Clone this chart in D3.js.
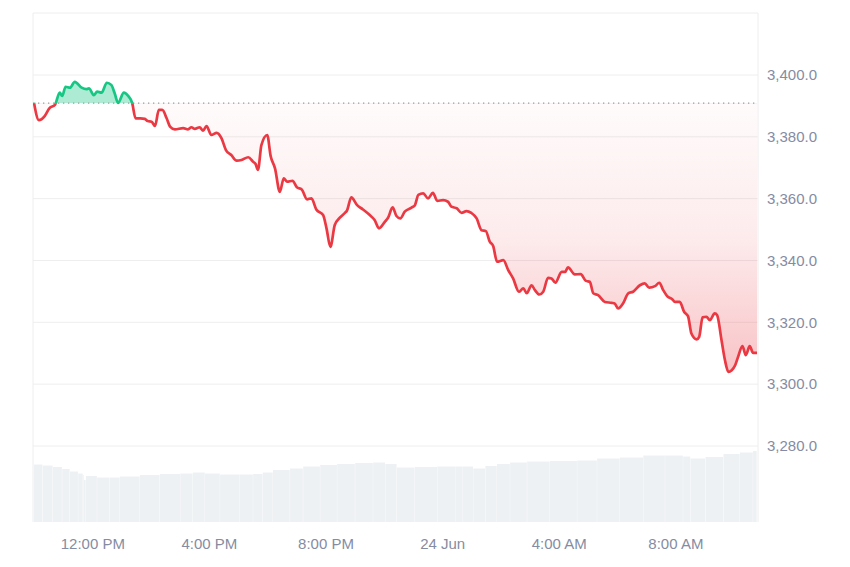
<!DOCTYPE html>
<html>
<head>
<meta charset="utf-8">
<script src="https://cdn.jsdelivr.net/npm/d3@7"></script>
<style>
  html, body { margin: 0; padding: 0; background: #fff; }
  svg { display: block; font-family: "Liberation Sans", Arial, Helvetica, sans-serif; }
</style>
</head>
<body>
<svg id="chart" width="850" height="567"></svg>
<script>
// ---- data (minutes after 23 Jun 10:00) ----
const baseTime = new Date(2024, 5, 23, 10, 0);
const minutes = [0,10,22,32,43,53,58,65,74,84,98,108,113,123,130,139,150,159,166,173,185,194,202,209,219,228,234,242,249,257,264,273,280,290,307,317,324,331,341,348,355,365,376,386,395,406,417,427,441,451,456,461,468,480,487,496,506,514,521,532,541,551,562,571,581,595,602,610,619,628,640,644,653,665,677,691,701,710,722,729,738,746,754,763,777,784,791,801,811,821,830,842,852,859,870,880,890,900,911,921,930,938,945,953,966,976,986,998,1007,1014,1024,1031,1040,1048,1058,1065,1073,1086,1093,1099,1113,1125,1136,1144,1151,1161,1175,1189,1195,1202,1213,1223,1233,1247,1257,1266,1278,1287,1295,1303,1314,1319,1329,1338,1346,1353,1364,1369,1376,1384,1391,1401,1406,1415,1422,1429,1436,1443,1449,1458,1465,1473,1480,1488];
const prices = [3391.0,3385.4,3386.7,3389.3,3390.3,3394.3,3393.2,3396.2,3395.9,3397.8,3395.9,3395.4,3395.7,3393.5,3394.6,3394.3,3397.5,3396.8,3394.1,3391.0,3394.3,3393.2,3391.0,3386.0,3386.0,3385.8,3385.1,3384.9,3383.5,3388.7,3388.7,3386.0,3383.3,3382.4,3382.8,3382.4,3383.1,3382.6,3383.1,3382.0,3383.5,3380.6,3381.3,3379.5,3375.7,3374.1,3372.3,3372.5,3373.4,3371.9,3371.2,3369.3,3377.3,3380.6,3373.8,3369.8,3362.2,3366.6,3365.5,3365.8,3363.7,3363.0,3359.8,3360.1,3356.5,3354.7,3350.4,3344.4,3351.5,3353.6,3355.4,3356.1,3360.4,3357.9,3356.5,3354.7,3353.1,3350.4,3352.5,3353.9,3357.2,3354.4,3353.6,3355.8,3357.1,3357.9,3361.2,3361.7,3360.1,3361.9,3359.3,3359.5,3359.0,3357.4,3356.9,3355.4,3356.0,3355.4,3353.6,3349.8,3349.5,3346.1,3344.7,3339.6,3340.1,3336.9,3334.2,3329.9,3331.0,3329.4,3332.0,3330.4,3329.0,3329.9,3334.4,3334.2,3332.8,3336.3,3336.3,3337.8,3335.5,3335.6,3333.4,3333.1,3329.4,3328.8,3326.6,3326.3,3326.1,3324.5,3326.3,3329.4,3329.9,3332.0,3332.6,3331.2,3331.7,3332.8,3330.4,3328.5,3327.4,3326.6,3326.6,3323.4,3322.0,3316.4,3314.5,3315.3,3321.6,3321.8,3320.7,3322.9,3322.3,3314.2,3307.8,3304.0,3304.5,3306.1,3308.8,3312.3,3309.4,3312.3,3310.1,3310.1];
const volMinutes = [0,18,39,58,74,91,101,103,107,130,156,177,218,259,301,327,352,383,424,451,471,492,527,554,589,624,661,698,723,747,784,830,867,883,904,929,953,980,1015,1062,1118,1159,1206,1254,1299,1336,1351,1382,1419,1453,1480];
const volumes = [11.5,11.3,11.0,10.6,10.1,9.7,9.4,8.4,9.2,8.9,8.9,9.1,9.4,9.6,9.7,9.9,9.7,9.5,9.5,9.6,9.9,10.4,10.7,11.1,11.4,11.6,11.8,11.9,11.6,10.9,11.0,11.1,11.1,11.1,10.7,11.2,11.6,11.9,12.1,12.2,12.3,12.7,12.9,13.3,13.3,13.1,12.7,13.0,13.6,13.9,14.2];
const yTicks = [3280, 3300, 3320, 3340, 3360, 3380, 3400];
const openPrice = 3390.9;

// ---- layout ----
const plot = { left: 33, right: 758, top: 13, bottom: 522 };
const upColor = "#16c784", downColor = "#ea3943";

const toDate = m => new Date(baseTime.getTime() + m * 60000);
const data = minutes.map((m, i) => ({ t: toDate(m), v: prices[i] }));
const vdata = volMinutes.map((m, i) => ({ t: toDate(m), v: volumes[i] }));

const svg = d3.select("#chart");
const x = d3.scaleTime().domain(d3.extent(data, d => d.t)).range([34, 757]);
const y = d3.scaleLinear().domain([3280, 3400]).range([446, 75]);
const yVol = d3.scaleLinear().domain([0, 14]).range([plot.bottom, plot.bottom - 70]);

const defs = svg.append("defs");
const yBase = y(openPrice);
defs.append("clipPath").attr("id", "clipUp").append("rect")
  .attr("x", plot.left).attr("y", plot.top).attr("width", plot.right - plot.left).attr("height", yBase - plot.top);
defs.append("clipPath").attr("id", "clipDown").append("rect")
  .attr("x", plot.left).attr("y", yBase).attr("width", plot.right - plot.left).attr("height", plot.bottom - yBase);
const grad = defs.append("linearGradient").attr("id", "redGrad")
  .attr("gradientUnits", "userSpaceOnUse").attr("x1", 0).attr("x2", 0)
  .attr("y1", yBase).attr("y2", y(d3.min(prices)));
grad.append("stop").attr("offset", 0).attr("stop-color", downColor).attr("stop-opacity", 0.02);
grad.append("stop").attr("offset", 0.5).attr("stop-color", downColor).attr("stop-opacity", 0.1);
grad.append("stop").attr("offset", 1).attr("stop-color", downColor).attr("stop-opacity", 0.3);

// volume bars
const vg = svg.append("g");
vg.selectAll("rect").data(vdata).join("rect")
  .attr("x", d => x(d.t))
  .attr("width", (d, i) => {
    const next = i < vdata.length - 1 ? x(vdata[i + 1].t) : 757;
    return Math.max(0.5, next - x(d.t) - 0.3);
  })
  .attr("y", d => yVol(d.v))
  .attr("height", d => plot.bottom - yVol(d.v))
  .attr("fill", "#eef1f4");

// gridlines
svg.append("g").selectAll("line").data(yTicks).join("line")
  .attr("x1", plot.left).attr("x2", plot.right)
  .attr("y1", d => y(d)).attr("y2", d => y(d))
  .attr("stroke", "#eeeeee").attr("stroke-width", 1);

// border
svg.append("path")
  .attr("d", `M${plot.left},${plot.bottom}V${plot.top}H${plot.right}V${plot.bottom}`)
  .attr("fill", "none").attr("stroke", "#eeeeee").attr("stroke-width", 1);

// areas
const curve = d3.curveMonotoneX;
const area = d3.area().curve(curve).x(d => x(d.t)).y0(yBase).y1(d => y(d.v));
svg.append("path").datum(data).attr("d", area)
  .attr("fill", upColor).attr("fill-opacity", 0.35).attr("clip-path", "url(#clipUp)");
svg.append("path").datum(data).attr("d", area)
  .attr("fill", "url(#redGrad)").attr("clip-path", "url(#clipDown)");

// baseline
svg.append("line")
  .attr("x1", plot.left).attr("x2", plot.right).attr("y1", yBase).attr("y2", yBase)
  .attr("stroke", "#9a9a9a").attr("stroke-width", 1.3).attr("stroke-dasharray", "1.3,3.7");

// lines
const line = d3.line().curve(curve).x(d => x(d.t)).y(d => y(d.v));
svg.append("path").datum(data).attr("d", line)
  .attr("fill", "none").attr("stroke", upColor).attr("stroke-width", 2.7)
  .attr("stroke-linejoin", "round").attr("clip-path", "url(#clipUp)");
svg.append("path").datum(data).attr("d", line)
  .attr("fill", "none").attr("stroke", downColor).attr("stroke-width", 2.7)
  .attr("stroke-linejoin", "round").attr("clip-path", "url(#clipDown)");

// y axis (right)
const yAxis = d3.axisRight(y).tickValues(yTicks).tickSize(0).tickPadding(0)
  .tickFormat(d3.format(",.1f"));
const ya = svg.append("g").attr("transform", `translate(767,0)`).call(yAxis);
ya.select(".domain").remove();
ya.selectAll("text").attr("fill", "#858ca2").style("font-size", "15px")
  .style("font-family", "'Liberation Sans', Arial, sans-serif");

// x axis
const fmtDay = d3.timeFormat("%-d %b"), fmtHour = d3.timeFormat("%-I:%M %p");
const xAxis = d3.axisBottom(x).ticks(d3.timeHour.every(4)).tickSize(0).tickPadding(0)
  .tickFormat(d => d.getHours() === 0 ? fmtDay(d) : fmtHour(d));
const xa = svg.append("g").attr("transform", `translate(0,538)`).call(xAxis);
xa.select(".domain").remove();
xa.selectAll("text").attr("fill", "#858ca2").style("font-size", "15px")
  .style("font-family", "'Liberation Sans', Arial, sans-serif");
</script>
</body>
</html>
